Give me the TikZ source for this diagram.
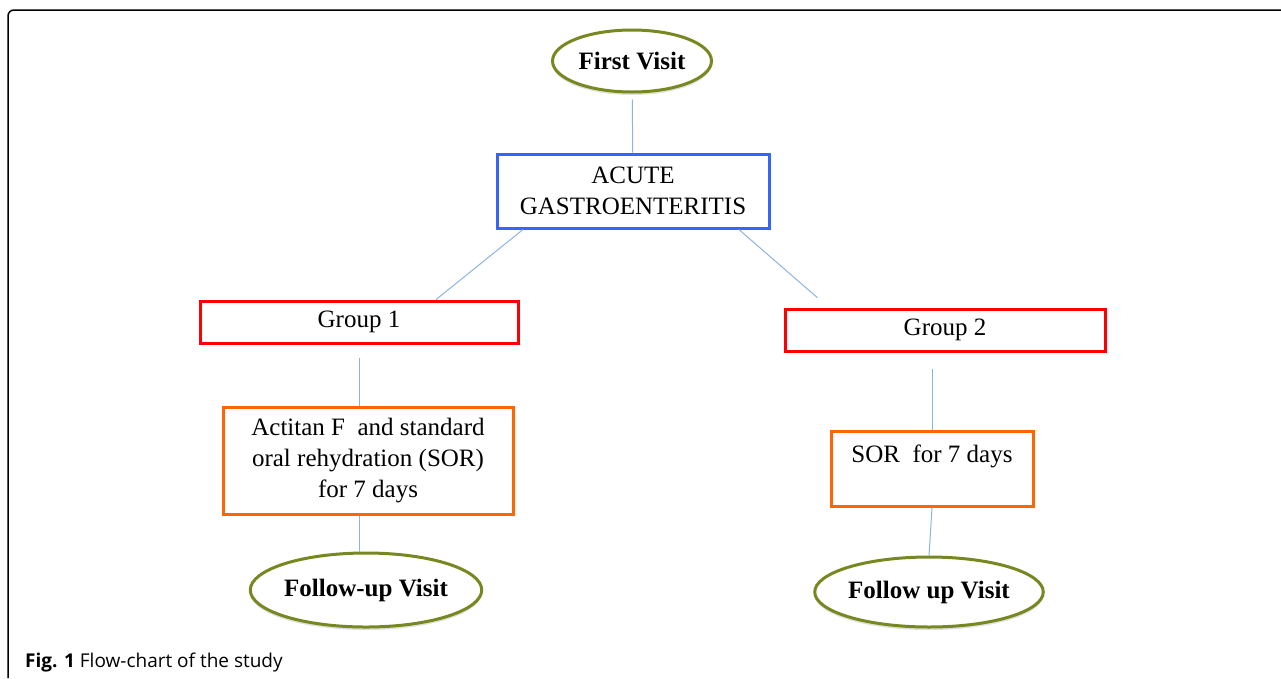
\documentclass[tikz,border=0pt]{standalone}
\usepackage{fontspec}
\setmainfont{Liberation Serif}
\newfontfamily\captionfont{Open Sans}
\usetikzlibrary{shapes.geometric,calc,shadows}
\definecolor{visitgreen}{RGB}{118,137,32}
\definecolor{diagblue}{RGB}{51,102,255}
\definecolor{grpred}{RGB}{255,0,0}
\definecolor{trtorange}{RGB}{255,102,0}
\definecolor{linkblue}{RGB}{141,179,226}

\begin{document}
\begin{tikzpicture}[x=1pt, y=-1pt,
  every node/.style={align=center, inner sep=0pt, font=\fontsize{25}{31}\selectfont},
  visit/.style={draw=visitgreen, ellipse, line width=3pt, fill=white, font=\fontsize{25}{31}\selectfont\bfseries,
    drop shadow={opacity=0.25, shadow xshift=0pt, shadow yshift=-3pt}},
  diagbox/.style={draw=diagblue, line width=3pt, fill=white},
  grpbox/.style={draw=grpred, line width=3pt, minimum height=42pt},
  trtbox/.style={draw=trtorange, line width=3pt},
  link/.style={draw=linkblue, line width=1pt}
]
\useasboundingbox (0,0) rectangle (1281,678);
\draw[line width=1.5pt, rounded corners=6pt] (8,678) -- (8,10) -- (1281,10);

\node[visit, minimum width=159pt, minimum height=62pt] (fv) at (632,61) {First Visit};
\node[diagbox, minimum width=272pt, minimum height=74pt] (ag) at (633,191) {ACUTE\\GASTROENTERITIS};

\node[grpbox, minimum width=318pt] (g1) at (359,322) {Group 1};
\node[trtbox, minimum width=290pt, minimum height=107pt] (g1-trt) at (368,461) {Actitan F\ \ and standard\\oral rehydration (SOR)\\for 7 days};
\node[visit, minimum width=208pt, minimum height=74pt] (g1-fu) at (366,590) {Follow-up Visit};

\node[grpbox, minimum width=320pt] (g2) at (945,330) {Group 2};
\node[trtbox, minimum width=202pt, minimum height=75pt] (g2-trt) at (932,469) {SOR\ \ for 7 days\\\mbox{}};
\node[visit, minimum width=202pt, minimum height=70pt] (g2-fu) at (929,592) {Follow up Visit};

\draw[link, shorten <=6pt] (fv) -- (ag);
\draw[link] ($(ag.south west)!0.1!(ag.south east)$) -- ($(g1.north west)!0.74!(g1.north east)$);
\draw[link, shorten >=15pt] ($(ag.south west)!0.885!(ag.south east)$) -- ($(g2.north west)!0.14!(g2.north east)$);
\draw[link, shorten <=13pt] (g1.south) -- (g1.south |- g1-trt.north);
\draw[link] (g1.south |- g1-trt.south) -- (g1.south |- g1-fu.north);
\draw[link, shorten <=16pt] (g2-trt.north |- g2.south) -- (g2-trt.north);
\draw[link] (g2-trt.south) -- (g2-fu.north);

\node[anchor=base west, font=\captionfont\fontsize{19}{23}\selectfont] (cap) at (25,667) {\textbf{Fig. 1} Flow-chart of the study};
\end{tikzpicture}
\end{document}
